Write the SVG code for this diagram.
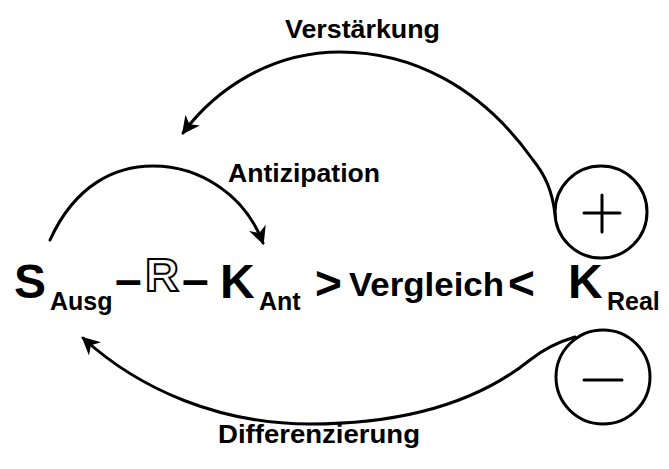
<svg xmlns="http://www.w3.org/2000/svg" width="669" height="469" viewBox="0 0 669 469">
<style>
text{font-family:"Liberation Sans",Arial,sans-serif;font-weight:bold;fill:#000}
.lbl{font-size:25px}
.big{font-size:48px}
.sub{font-size:25px}
.mid{font-size:34px}
.cmp{font-size:46px}
.ln{fill:none;stroke:#000;stroke-width:3;stroke-linecap:round}
.out{fill:#fff;stroke:#000;stroke-width:2}
</style>
<defs>
<marker id="ah" viewBox="0 0 10 10" refX="9" refY="5" markerWidth="6.5" markerHeight="6" orient="auto" markerUnits="strokeWidth">
<path d="M0,0 L10,5 L0,10 L3,5 z" fill="#000"/>
</marker>
</defs>
<g id="labels">
<text class="lbl" x="285" y="38" textLength="155" lengthAdjust="spacingAndGlyphs">Verstärkung</text>
<text class="lbl" x="228" y="182" textLength="152" lengthAdjust="spacingAndGlyphs">Antizipation</text>
<text class="lbl" x="218" y="443" textLength="202" lengthAdjust="spacingAndGlyphs">Differenzierung</text>
</g>
<g id="S_Ausg"><text class="big" x="14" y="298">S</text><text class="sub" x="50" y="310">Ausg</text></g>
<g id="dash1"><text class="big" x="115" y="296">–</text></g>
<g id="R"><text class="out" x="145" y="291" font-size="47">R</text></g>
<g id="dash2"><text class="big" x="182" y="296">–</text></g>
<g id="K_Ant"><text class="big" x="220" y="298">K</text><text class="sub" x="259" y="310">Ant</text></g>
<g id="Vergleich"><text class="cmp" x="315" y="299">&gt;</text><text class="mid" x="349" y="296" textLength="155" lengthAdjust="spacingAndGlyphs">Vergleich</text><text class="cmp" x="508" y="299">&lt;</text></g>
<g id="K_Real"><text class="big" x="568" y="298">K</text><text class="sub" x="607" y="310">Real</text></g>
<g id="plus"><circle class="ln" cx="601" cy="212" r="46"/><path class="ln" d="M584,213 H620 M602,195 V232" stroke-width="4"/></g>
<g id="minus"><circle class="ln" cx="603" cy="377" r="47"/><path class="ln" d="M584,380 H622" stroke-width="4"/></g>
<g id="connectors">
<path class="ln" d="M555,214 C552,190 545,175 533,160 C480,85 410,52 340,52 C270,52 215,90 183,133" marker-end="url(#ah)"/>
<path class="ln" d="M50,240 C75,185 115,166 153,166 C200,166 245,195 263,243" marker-end="url(#ah)"/>
<path class="ln" d="M575,337 C558,342 545,348 530,360 C470,408 390,424 310,424 C220,424 140,390 83,338" marker-end="url(#ah)"/>
</g>
</svg>
